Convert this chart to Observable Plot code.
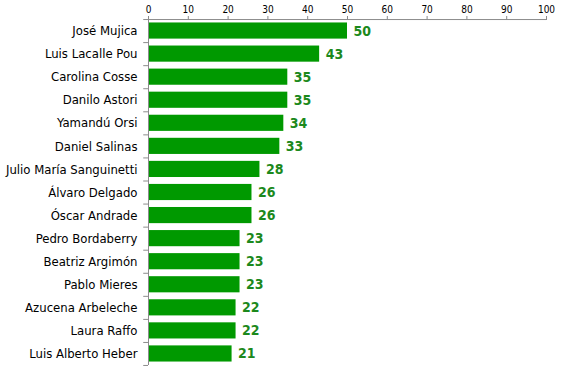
<!DOCTYPE html>
<html><head><meta charset="utf-8">
<script src="https://cdn.jsdelivr.net/npm/d3@7"></script>
<script src="https://cdn.jsdelivr.net/npm/@observablehq/plot@0.6"></script>
<style>body{margin:0;background:#fff}</style>
</head><body><div id="chart"></div>
<script>
const names = ["José Mujica","Luis Lacalle Pou","Carolina Cosse","Danilo Astori","Yamandú Orsi","Daniel Salinas","Julio María Sanguinetti","Álvaro Delgado","Óscar Andrade","Pedro Bordaberry","Beatriz Argimón","Pablo Mieres","Azucena Arbeleche","Laura Raffo","Luis Alberto Heber"];
const values = [50,43,35,35,34,33,28,26,26,23,23,23,22,22,21];
const xTicks = [0,10,20,30,40,50,60,70,80,90,100];
const data = names.map((n,i)=>({name:n, value:values[i]}));
const axisColor = "#8c8c8c";
const font = "DejaVu Sans Condensed, Tahoma, sans-serif";
const chart = Plot.plot({
  width: 563, height: 375,
  marginLeft: 148, marginRight: 17, marginTop: 19, marginBottom: 10,
  style: {fontFamily: font, fontSize: "12px", background: "#fff"},
  x: {domain: [0,100], axis: null},
  y: {domain: names, paddingInner: 0.3, paddingOuter: 0.15, axis: null, round: false},
  marks: [
    Plot.barX(data, {y: "name", x: "value", fill: "#009900"}),
    Plot.text(data, {y: "name", x: "value", text: d=>String(d.value), dx: 6, textAnchor: "start", fill: "#1c891c", fontWeight: "bold", fontSize: 14}),
    Plot.axisX({anchor: "top", ticks: xTicks, tickSize: 4, tickPadding: 3, tickFormat: d=>String(d), stroke: axisColor, fill: "#000", fontSize: 10, label: null}),
    Plot.axisY({anchor: "left", tickSize: 0, tickPadding: 11, fill: "#000", fontSize: 13, label: null}),
    Plot.ruleY([names[0]], {y: d=>d, x1: 0, x2: 100, dy: -11.5, stroke: axisColor}),
    Plot.ruleX([0], {stroke: axisColor}),
    Plot.ruleY(names, {y: d=>d, x1: -1.2, x2: 0, dy: -11.5, stroke: axisColor}),
    Plot.ruleY([names[names.length-1]], {y: d=>d, x1: -1.2, x2: 0, dy: 11.5, stroke: axisColor})
  ]
});
document.getElementById("chart").appendChild(chart);
</script></body></html>
